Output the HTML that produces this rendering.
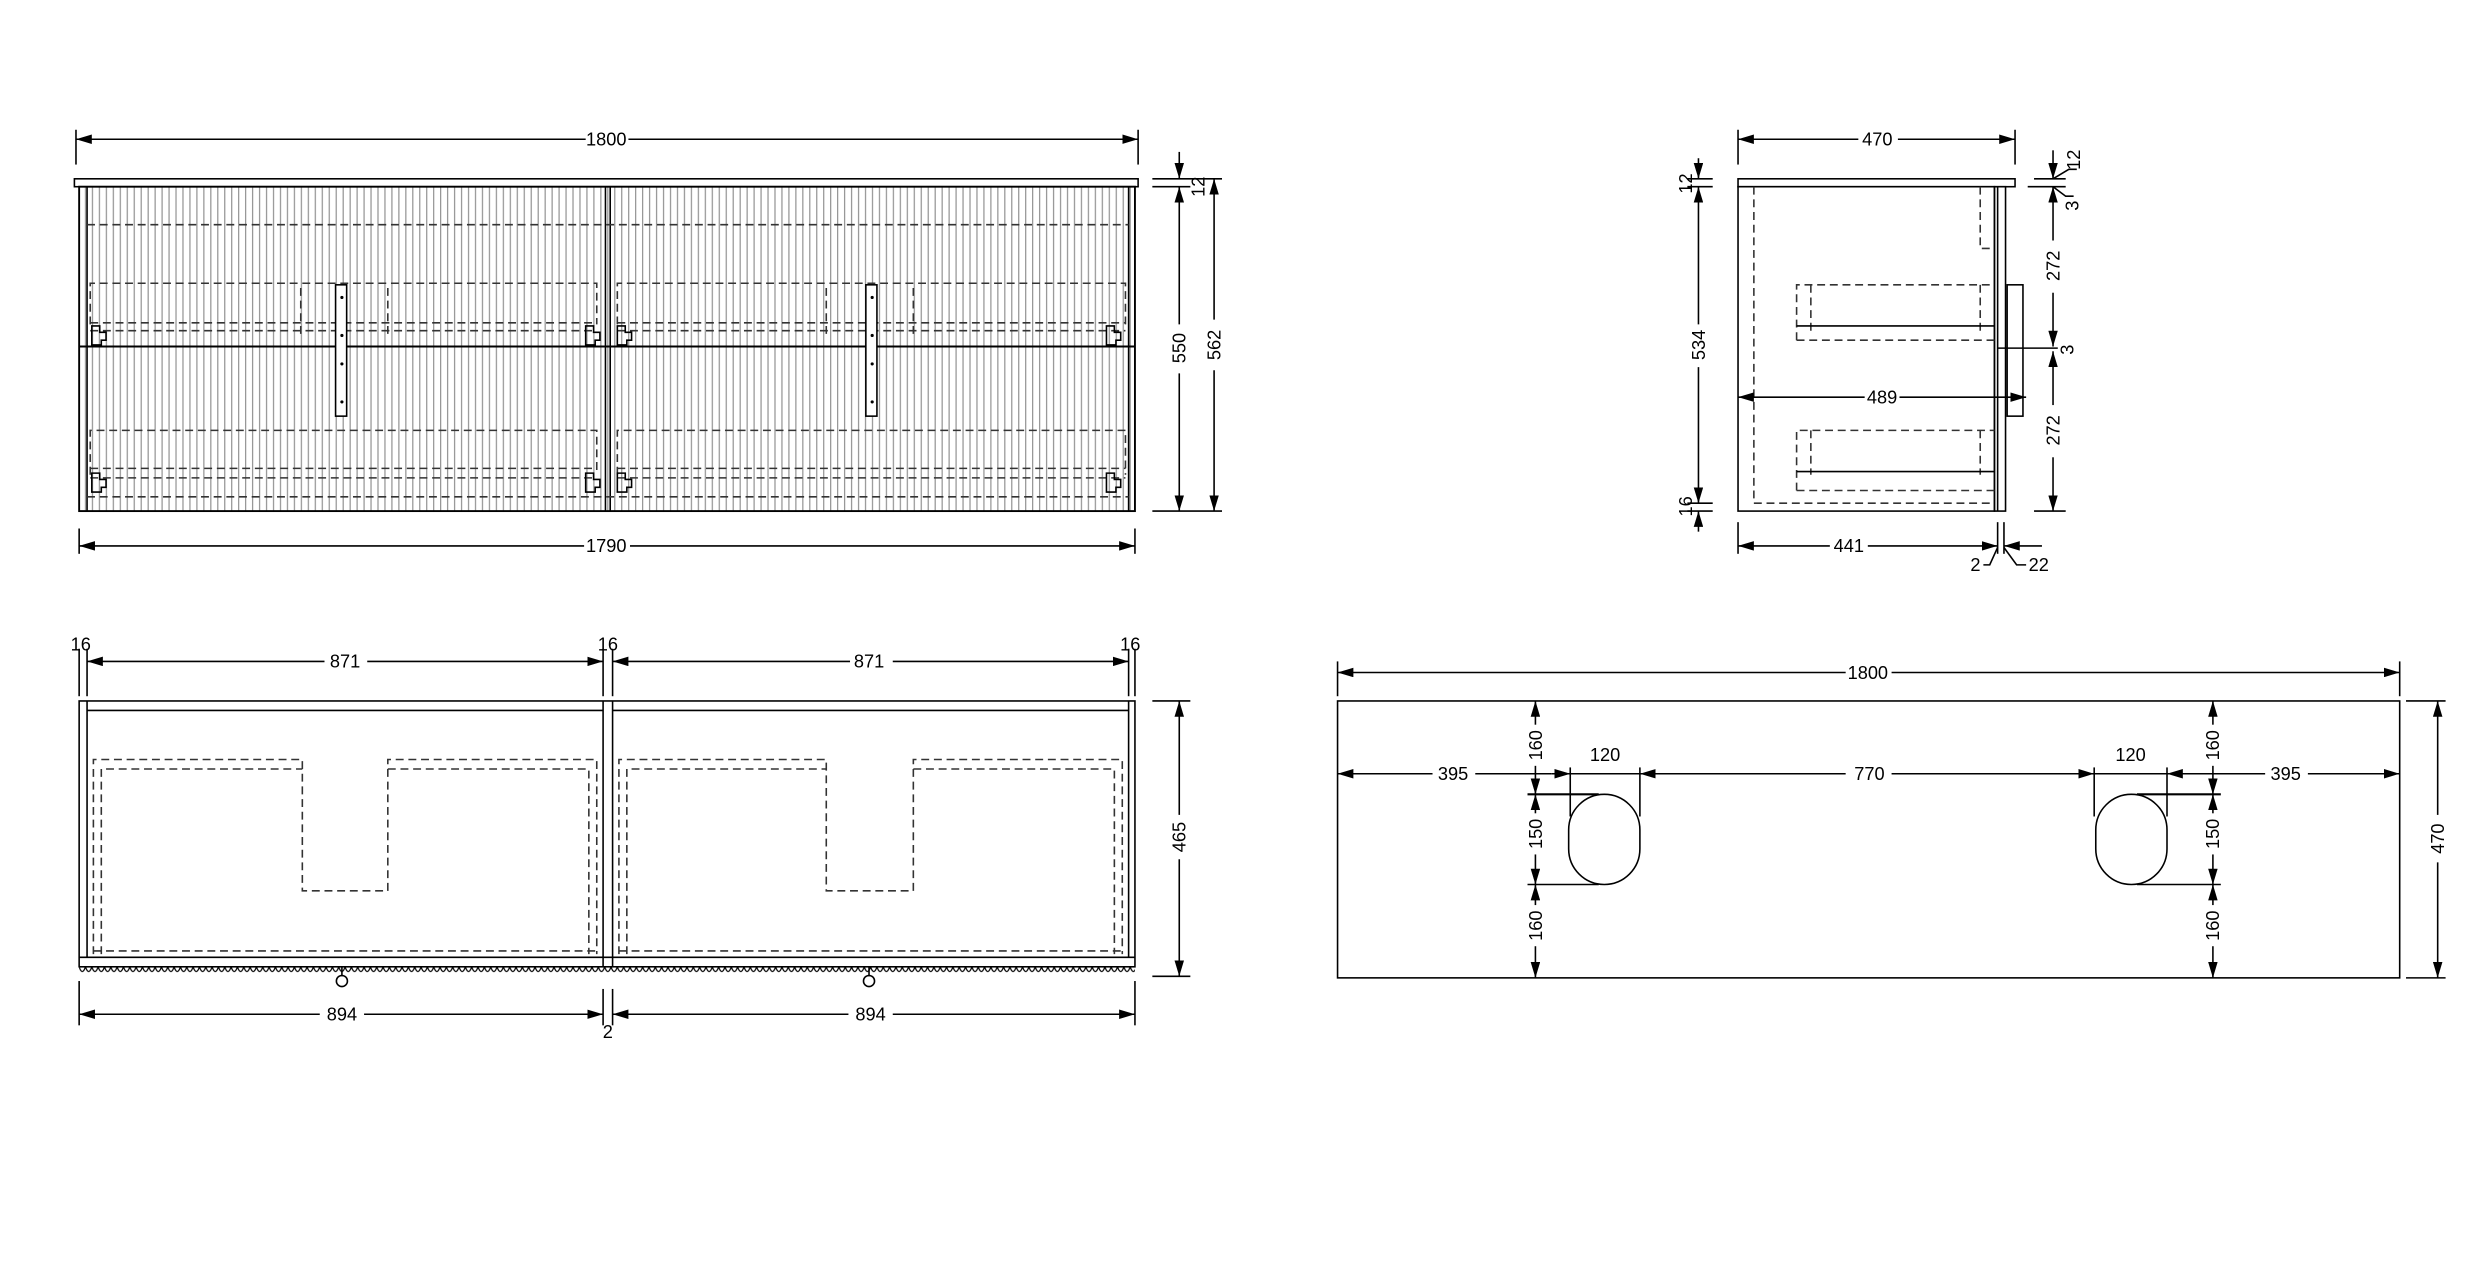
<!DOCTYPE html>
<html><head><meta charset="utf-8"><style>
html,body{margin:0;padding:0;background:#fff;}
svg{display:block;}
text{font-family:"Liberation Sans",sans-serif;font-size:11.5px;fill:#000;}
</style></head><body>
<svg width="2482" height="1288" viewBox="0 0 1568 814" preserveAspectRatio="none" xmlns="http://www.w3.org/2000/svg">
<defs>
<marker id="a" viewBox="0 0 10 6" refX="10" refY="3" markerWidth="10" markerHeight="6" markerUnits="userSpaceOnUse" orient="auto-start-reverse"><path d="M0,0 L10,3 L0,6z" fill="#000"/></marker>
<pattern id="fl" x="52" y="0" width="4.4" height="10" patternUnits="userSpaceOnUse"><line x1="2" y1="0" x2="2" y2="10" stroke="#888" stroke-width="0.7"/></pattern>
<pattern id="sc" x="50" y="611" width="4" height="8" patternUnits="userSpaceOnUse"><path d="M0,0 q2,6 4,0" fill="none" stroke="#000" stroke-width="0.8"/></pattern>
</defs>
<g stroke="#000" stroke-width="1" fill="none">
<!-- FRONT VIEW -->
<line x1="48" y1="82" x2="48" y2="104"/><line x1="719" y1="82" x2="719" y2="104"/>
<line x1="48" y1="88" x2="370" y2="88" marker-start="url(#a)"/><line x1="397" y1="88" x2="719" y2="88" marker-end="url(#a)"/>
<rect x="47" y="113" width="672" height="5"/>
<rect x="52" y="118" width="664" height="205" fill="url(#fl)" stroke="none"/>
<rect x="50" y="118" width="667" height="205" stroke-width="1.2"/>
<line x1="55" y1="118" x2="55" y2="323"/><line x1="713" y1="118" x2="713" y2="323"/>
<line x1="382.5" y1="118" x2="382.5" y2="323"/><line x1="385.5" y1="118" x2="385.5" y2="323"/>
<line x1="50" y1="219" x2="717" y2="219" stroke-width="1.3"/>
<g stroke-dasharray="5,3" stroke="#333">
<line x1="55" y1="142" x2="713" y2="142"/>
<line x1="55" y1="314" x2="713" y2="314"/>
<path d="M57,205 V179 H377 V205"/><path d="M390,205 V179 H711 V205"/>
<line x1="57" y1="204" x2="377" y2="204"/><line x1="57" y1="209" x2="377" y2="209"/>
<line x1="390" y1="204" x2="711" y2="204"/><line x1="390" y1="209" x2="711" y2="209"/>
<path d="M190,211 V180 M245,211 V180"/><path d="M522,211 V180 M577,211 V180"/>
<path d="M57,300 V272 H377 V300"/><path d="M390,300 V272 H711 V300"/>
<line x1="57" y1="296" x2="377" y2="296"/><line x1="57" y1="302" x2="377" y2="302"/>
<line x1="390" y1="296" x2="711" y2="296"/><line x1="390" y1="302" x2="711" y2="302"/>
</g>
<g stroke-width="1">
<path d="M58,206 h5 v4 h4 v5 h-3 v3 h-6z"/><path d="M370,206 h5 v4 h4 v5 h-3 v3 h-6z"/><path d="M390,206 h5 v4 h4 v5 h-3 v3 h-6z"/><path d="M699,206 h5 v4 h4 v5 h-3 v3 h-6z"/>
<path d="M58,299 h5 v4 h4 v5 h-3 v3 h-6z"/><path d="M370,299 h5 v4 h4 v5 h-3 v3 h-6z"/><path d="M390,299 h5 v4 h4 v5 h-3 v3 h-6z"/><path d="M699,299 h5 v4 h4 v5 h-3 v3 h-6z"/>
</g>
<rect x="212" y="180" width="7" height="83" fill="#fff"/><rect x="547" y="180" width="7" height="83" fill="#fff"/>
<line x1="50" y1="334" x2="50" y2="350"/><line x1="717" y1="334" x2="717" y2="350"/>
<line x1="50" y1="345" x2="369" y2="345" marker-start="url(#a)"/><line x1="398" y1="345" x2="717" y2="345" marker-end="url(#a)"/>
<line x1="728" y1="113" x2="772" y2="113"/><line x1="728" y1="118" x2="752" y2="118"/><line x1="728" y1="323" x2="772" y2="323"/>
<line x1="745" y1="96" x2="745" y2="113" marker-end="url(#a)"/><line x1="745" y1="118" x2="745" y2="205" marker-start="url(#a)"/><line x1="745" y1="236" x2="745" y2="323" marker-end="url(#a)"/>
<line x1="767" y1="113" x2="767" y2="202" marker-start="url(#a)"/><line x1="767" y1="234" x2="767" y2="323" marker-end="url(#a)"/>

<!-- SIDE VIEW -->
<line x1="1098" y1="82" x2="1098" y2="104"/><line x1="1273" y1="82" x2="1273" y2="104"/>
<line x1="1098" y1="88" x2="1174" y2="88" marker-start="url(#a)"/><line x1="1199" y1="88" x2="1273" y2="88" marker-end="url(#a)"/>
<rect x="1098" y="113" width="175" height="5"/>
<rect x="1098" y="118" width="162" height="205"/>
<rect x="1260" y="118" width="7" height="205"/>
<line x1="1262" y1="118" x2="1262" y2="323"/>
<rect x="1268" y="180" width="10" height="83"/>
<g stroke-dasharray="5,3" stroke="#333">
<path d="M1108,118 V318 H1260"/>
<path d="M1251,118 V157 H1259"/>
<path d="M1135,215 V180 H1260 M1144,180 V209 M1251,180 V209"/>
<line x1="1135" y1="215" x2="1260" y2="215"/>
<path d="M1135,310 V272 H1260 M1144,272 V300 M1251,272 V300"/>
<line x1="1135" y1="310" x2="1260" y2="310"/>
</g>
<line x1="1135" y1="206" x2="1260" y2="206"/><line x1="1135" y1="298" x2="1260" y2="298"/>
<line x1="1262" y1="220" x2="1300" y2="220"/>
<line x1="1098" y1="251" x2="1178" y2="251" marker-start="url(#a)"/><line x1="1200" y1="251" x2="1280" y2="251" marker-end="url(#a)"/>
<line x1="1066" y1="113" x2="1082" y2="113"/><line x1="1066" y1="118" x2="1082" y2="118"/><line x1="1066" y1="318" x2="1082" y2="318"/><line x1="1066" y1="323" x2="1082" y2="323"/>
<line x1="1073" y1="100" x2="1073" y2="113" marker-end="url(#a)"/><line x1="1073" y1="118" x2="1073" y2="205" marker-start="url(#a)"/><line x1="1073" y1="232" x2="1073" y2="318" marker-end="url(#a)"/><line x1="1073" y1="323" x2="1073" y2="336" marker-start="url(#a)"/>
<line x1="1285" y1="113" x2="1305" y2="113"/><line x1="1281" y1="118" x2="1305" y2="118"/><line x1="1285" y1="323" x2="1305" y2="323"/>
<line x1="1297" y1="95" x2="1297" y2="113" marker-end="url(#a)"/><line x1="1297" y1="118" x2="1297" y2="152" marker-start="url(#a)"/>
<line x1="1297" y1="185" x2="1297" y2="219" marker-end="url(#a)"/><line x1="1297" y1="222" x2="1297" y2="256" marker-start="url(#a)"/><line x1="1297" y1="289" x2="1297" y2="323" marker-end="url(#a)"/>
<path d="M1297,113 L1307,107 H1312"/><path d="M1297,118 L1305,124 H1310"/>
<line x1="1098" y1="330" x2="1098" y2="350"/><line x1="1262" y1="330" x2="1262" y2="350"/><line x1="1266" y1="330" x2="1266" y2="350"/>
<line x1="1098" y1="345" x2="1156" y2="345" marker-start="url(#a)"/><line x1="1180" y1="345" x2="1262" y2="345" marker-end="url(#a)"/>
<line x1="1275" y1="345" x2="1266" y2="345" marker-end="url(#a)"/><line x1="1275" y1="345" x2="1290" y2="345"/>
<path d="M1262,346 L1257,357 H1253"/><path d="M1266,346 L1274,357 H1280"/>

<!-- PLAN VIEW -->
<line x1="50" y1="410" x2="50" y2="440"/><line x1="55" y1="410" x2="55" y2="440"/><line x1="381" y1="410" x2="381" y2="440"/><line x1="387" y1="410" x2="387" y2="440"/><line x1="713" y1="410" x2="713" y2="440"/><line x1="717" y1="410" x2="717" y2="440"/>
<line x1="55" y1="418" x2="205" y2="418" marker-start="url(#a)"/><line x1="232" y1="418" x2="381" y2="418" marker-end="url(#a)"/>
<line x1="387" y1="418" x2="537" y2="418" marker-start="url(#a)"/><line x1="564" y1="418" x2="713" y2="418" marker-end="url(#a)"/>
<rect x="50" y="443" width="667" height="168"/>
<line x1="55" y1="449" x2="381" y2="449"/><line x1="387" y1="449" x2="713" y2="449"/>
<line x1="55" y1="443" x2="55" y2="605"/><line x1="381" y1="443" x2="381" y2="611"/><line x1="387" y1="443" x2="387" y2="611"/><line x1="713" y1="443" x2="713" y2="605"/>
<line x1="50" y1="605" x2="717" y2="605"/>
<g stroke-dasharray="5,3" stroke="#333">
<path d="M59,603 V480 H191 V563 H245 V480 H377 V603"/><path d="M64,603 V486 H191 M245,486 H372 V603"/>
<path d="M391,603 V480 H522 V563 H577 V480 H709 V603"/><path d="M396,603 V486 H522 M577,486 H704 V603"/>
<line x1="59" y1="601" x2="377" y2="601"/><line x1="391" y1="601" x2="709" y2="601"/>
</g>
<rect x="50" y="611" width="667" height="6" fill="url(#sc)" stroke="none"/>
<circle cx="216" cy="620" r="3.5"/><line x1="216" y1="611" x2="216" y2="617"/>
<circle cx="549" cy="620" r="3.5"/><line x1="549" y1="611" x2="549" y2="617"/>
<line x1="50" y1="620" x2="50" y2="648"/><line x1="717" y1="620" x2="717" y2="648"/><line x1="381" y1="625" x2="381" y2="648"/><line x1="387" y1="625" x2="387" y2="648"/>
<line x1="50" y1="641" x2="202" y2="641" marker-start="url(#a)"/><line x1="230" y1="641" x2="381" y2="641" marker-end="url(#a)"/>
<line x1="387" y1="641" x2="536" y2="641" marker-start="url(#a)"/><line x1="564" y1="641" x2="717" y2="641" marker-end="url(#a)"/>
<line x1="728" y1="443" x2="752" y2="443"/><line x1="728" y1="617" x2="752" y2="617"/>
<line x1="745" y1="443" x2="745" y2="515" marker-start="url(#a)"/><line x1="745" y1="543" x2="745" y2="617" marker-end="url(#a)"/>

<!-- TOP VIEW -->
<line x1="845" y1="418" x2="845" y2="440"/><line x1="1516" y1="418" x2="1516" y2="440"/>
<line x1="845" y1="425" x2="1166" y2="425" marker-start="url(#a)"/><line x1="1195" y1="425" x2="1516" y2="425" marker-end="url(#a)"/>
<rect x="845" y="443" width="671" height="175"/>
<line x1="1520" y1="443" x2="1545" y2="443"/><line x1="1520" y1="618" x2="1545" y2="618"/>
<line x1="1540" y1="443" x2="1540" y2="515" marker-start="url(#a)"/><line x1="1540" y1="545" x2="1540" y2="618" marker-end="url(#a)"/>
<rect x="991" y="502" width="45" height="57" rx="22.5" ry="22.5"/>
<rect x="1324" y="502" width="45" height="57" rx="22.5" ry="22.5"/>
<line x1="845" y1="489" x2="905" y2="489" marker-start="url(#a)"/><line x1="932" y1="489" x2="980" y2="489"/>
<line x1="980" y1="489" x2="992" y2="489" marker-end="url(#a)"/><line x1="992" y1="489" x2="1036" y2="489"/><line x1="1048" y1="489" x2="1036" y2="489" marker-end="url(#a)"/>
<line x1="1036" y1="489" x2="1166" y2="489"/><line x1="1195" y1="489" x2="1323" y2="489"/>
<line x1="1311" y1="489" x2="1323" y2="489" marker-end="url(#a)"/><line x1="1323" y1="489" x2="1369" y2="489"/><line x1="1381" y1="489" x2="1369" y2="489" marker-end="url(#a)"/>
<line x1="1369" y1="489" x2="1431" y2="489"/><line x1="1458" y1="489" x2="1516" y2="489" marker-end="url(#a)"/>
<line x1="992" y1="485" x2="992" y2="516"/><line x1="1036" y1="485" x2="1036" y2="516"/>
<line x1="1323" y1="485" x2="1323" y2="516"/><line x1="1369" y1="485" x2="1369" y2="516"/>
<line x1="965" y1="502" x2="1010" y2="502" stroke-width="1.3"/><line x1="965" y1="559" x2="1010" y2="559"/>
<line x1="1350" y1="502" x2="1403" y2="502" stroke-width="1.3"/><line x1="1350" y1="559" x2="1403" y2="559"/>
<line x1="970" y1="443" x2="970" y2="458" marker-start="url(#a)"/><line x1="970" y1="484" x2="970" y2="502" marker-end="url(#a)"/>
<line x1="970" y1="502" x2="970" y2="514" marker-start="url(#a)"/><line x1="970" y1="540" x2="970" y2="559" marker-end="url(#a)"/>
<line x1="970" y1="559" x2="970" y2="572" marker-start="url(#a)"/><line x1="970" y1="598" x2="970" y2="618" marker-end="url(#a)"/>
<line x1="1398" y1="443" x2="1398" y2="458" marker-start="url(#a)"/><line x1="1398" y1="484" x2="1398" y2="502" marker-end="url(#a)"/>
<line x1="1398" y1="502" x2="1398" y2="514" marker-start="url(#a)"/><line x1="1398" y1="540" x2="1398" y2="559" marker-end="url(#a)"/>
<line x1="1398" y1="559" x2="1398" y2="572" marker-start="url(#a)"/><line x1="1398" y1="598" x2="1398" y2="618" marker-end="url(#a)"/>
</g>
<g fill="#000">
<circle cx="216" cy="188" r="1"/><circle cx="216" cy="212" r="1"/><circle cx="216" cy="230" r="1"/><circle cx="216" cy="254" r="1"/>
<circle cx="551" cy="188" r="1"/><circle cx="551" cy="212" r="1"/><circle cx="551" cy="230" r="1"/><circle cx="551" cy="254" r="1"/>
</g>
<g text-anchor="middle">
<text x="383" y="92">1800</text>
<text x="383" y="349">1790</text>
<text x="1186" y="92">470</text>
<text x="1189" y="255">489</text>
<text x="1168" y="349">441</text>
<text x="1248" y="361">2</text>
<text x="1288" y="361">22</text>
<text x="51" y="411">16</text>
<text x="218" y="422">871</text>
<text x="384" y="411">16</text>
<text x="549" y="422">871</text>
<text x="714" y="411">16</text>
<text x="216" y="645">894</text>
<text x="550" y="645">894</text>
<text x="384" y="656">2</text>
<text x="1180" y="429">1800</text>
<text x="918" y="493">395</text>
<text x="1014" y="481">120</text>
<text x="1181" y="493">770</text>
<text x="1346" y="481">120</text>
<text x="1444" y="493">395</text>
<text transform="translate(761,118) rotate(-90)">12</text>
<text transform="translate(749,220) rotate(-90)">550</text>
<text transform="translate(771,218) rotate(-90)">562</text>
<text transform="translate(1069,116) rotate(-90)">12</text>
<text transform="translate(1077,218) rotate(-90)">534</text>
<text transform="translate(1069,320) rotate(-90)">16</text>
<text transform="translate(1314,101) rotate(-90)">12</text>
<text transform="translate(1313,130) rotate(-90)">3</text>
<text transform="translate(1301,168) rotate(-90)">272</text>
<text transform="translate(1310,221) rotate(-90)">3</text>
<text transform="translate(1301,272) rotate(-90)">272</text>
<text transform="translate(749,529) rotate(-90)">465</text>
<text transform="translate(1544,530) rotate(-90)">470</text>
<text transform="translate(974,471) rotate(-90)">160</text>
<text transform="translate(974,527) rotate(-90)">150</text>
<text transform="translate(974,585) rotate(-90)">160</text>
<text transform="translate(1402,471) rotate(-90)">160</text>
<text transform="translate(1402,527) rotate(-90)">150</text>
<text transform="translate(1402,585) rotate(-90)">160</text>
</g>
</svg>
</body></html>
